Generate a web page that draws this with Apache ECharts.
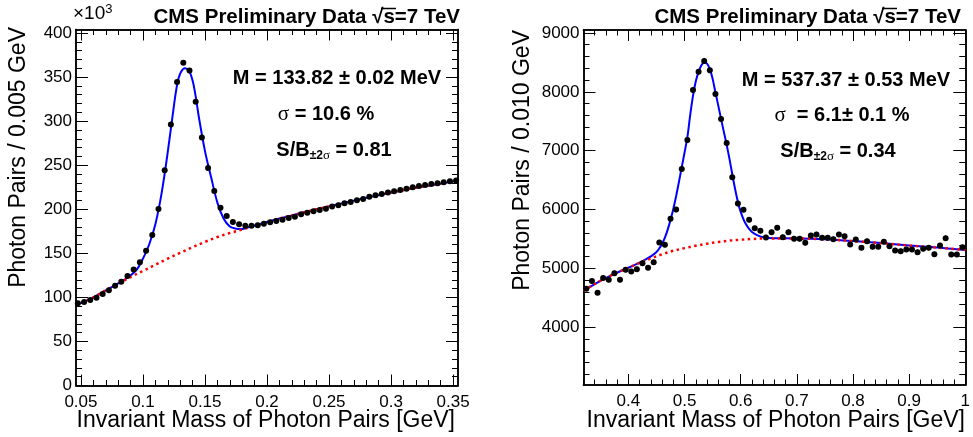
<!DOCTYPE html>
<html>
<head>
<meta charset="utf-8">
<script src="https://cdn.jsdelivr.net/npm/echarts@6/dist/echarts.min.js"></script>
<style>html,body{margin:0;padding:0;background:#fff;}#c{width:973px;height:437px;}</style>
</head>
<body>
<div id="c"></div>
<script>
// ---------- Left panel (pi0) : counts in units of 10^3 ----------
const leftMass = [
0.0475,0.0525,0.0575,0.0625,0.0675,0.0725,0.0775,0.0825,0.0875,0.0925,
0.0975,0.1025,0.1075,0.1125,0.1175,0.1225,0.1275,0.1325,0.1375,0.1425,
0.1475,0.1525,0.1575,0.1625,0.1675,0.1725,0.1775,0.1825,0.1875,0.1925,
0.1975,0.2025,0.2075,0.2125,0.2175,0.2225,0.2275,0.2325,0.2375,0.2425,
0.2475,0.2525,0.2575,0.2625,0.2675,0.2725,0.2775,0.2825,0.2875,0.2925,
0.2975,0.3025,0.3075,0.3125,0.3175,0.3225,0.3275,0.3325,0.3375,0.3425,
0.3475,0.3525];
const leftCounts = [
93.2,94.7,96.9,99.5,103.8,108.0,113.2,117.7,124.2,131.6,
139.9,152.8,170.8,200.3,244.3,296.1,344.3,366.3,357.5,321.9,
281.4,246.7,220.6,201.8,192.4,185.6,183.0,181.4,181.4,181.8,
183.5,185.2,186.7,188.2,190.1,191.6,194.3,196.1,197.7,199.2,
200.7,203.0,204.5,206.8,208.3,210.2,211.7,214.3,215.9,217.4,
218.9,220.5,221.9,223.4,225.0,226.5,227.6,228.8,229.5,230.7,
231.8,232.5];
const leftFitX = [0.046,0.05,0.06,0.07,0.08,0.085,0.09,0.095,0.1,0.105,0.11,0.115,0.12,0.125,0.1275,0.13,0.1338,0.137,0.14,0.1425,0.145,0.15,0.155,0.16,0.165,0.17,0.175,0.18,0.185,0.19,0.2,0.21,0.22,0.24,0.26,0.28,0.30,0.32,0.34,0.354];
const leftFitY = [91.5,93.5,100,108,115.8,120,125,131.5,144,160,183,218,265,318,341,354,360,357.5,346,328,305,266,236,207.5,189.5,180.5,178,177.5,179.5,181.5,185.5,189.5,193,200,206.5,213,219,224.5,229,232.5];
const leftBkgX = [0.046,0.05,0.06,0.07,0.08,0.09,0.10,0.11,0.12,0.13,0.14,0.15,0.16,0.17,0.18,0.19,0.20,0.21,0.22,0.24,0.26,0.28,0.30,0.32,0.34,0.354];
const leftBkgY = [91.5,93.5,100,108,115.5,123,130,137,144,150.5,157,163,168.5,173,177,181.5,185.5,189.5,193,200,206.5,213,219,224.5,229,232.5];
const leftXTicks = [0.05,0.1,0.15,0.2,0.25,0.3,0.35];
const leftYTicks = [0,50,100,150,200,250,300,350,400];

// ---------- Right panel (eta) ----------
const rightMass = [
0.325,0.335,0.345,0.355,0.365,0.375,0.385,0.395,0.405,0.415,
0.425,0.435,0.445,0.455,0.465,0.475,0.485,0.495,0.505,0.515,
0.525,0.535,0.545,0.555,0.565,0.575,0.585,0.595,0.605,0.615,
0.625,0.635,0.645,0.655,0.665,0.675,0.685,0.695,0.705,0.715,
0.725,0.735,0.745,0.755,0.765,0.775,0.785,0.795,0.805,0.815,
0.825,0.835,0.845,0.855,0.865,0.875,0.885,0.895,0.905,0.915,
0.925,0.935,0.945,0.955,0.965,0.975,0.985,0.995];
const rightCounts = [
4656,4785,4588,4836,4808,4920,4808,4978,4949,4988,
5090,5012,5107,5441,5402,5842,6000,6690,7181,8029,
8339,8525,8368,7961,7537,7131,6547,6102,5997,5825,
5681,5639,5527,5615,5693,5531,5615,5503,5503,5436,
5559,5576,5520,5520,5497,5576,5547,5407,5492,5351,
5463,5368,5368,5453,5378,5305,5293,5322,5322,5276,
5334,5351,5242,5390,5514,5237,5237,5361];
const rightErr = [
42,42,41,42,42,42,42,43,43,43,
43,43,43,44,44,45,45,47,48,50,
50,51,50,50,49,48,47,46,46,45,
45,45,45,45,45,45,45,45,45,44,
45,45,45,45,45,45,45,44,45,44,
44,44,44,44,44,44,44,44,44,44,
44,44,44,44,45,44,44,44];
const rightFitX = [0.32,0.34,0.36,0.38,0.40,0.42,0.43,0.44,0.45,0.455,0.46,0.465,0.47,0.475,0.48,0.485,0.49,0.495,0.50,0.505,0.51,0.515,0.52,0.525,0.53,0.535,0.54,0.545,0.55,0.555,0.56,0.565,0.57,0.575,0.58,0.585,0.59,0.595,0.60,0.605,0.61,0.615,0.62,0.63,0.64,0.65,0.66,0.70,0.75,0.80,0.85,0.90,0.95,1.00];
const rightFitY = [4620,4735,4840,4930,5012,5100,5150,5205,5280,5340,5420,5525,5660,5825,6010,6230,6470,6720,6970,7230,7600,7930,8180,8340,8450,8500,8480,8390,8220,7990,7770,7540,7320,7100,6860,6600,6350,6130,5960,5835,5740,5670,5620,5562,5530,5515,5512,5510,5495,5465,5430,5390,5355,5315];
const rightBkgX = [0.32,0.34,0.36,0.38,0.40,0.42,0.44,0.46,0.48,0.50,0.52,0.54,0.56,0.58,0.60,0.62,0.65,0.70,0.75,0.80,0.85,0.90,0.95,1.00];
const rightBkgY = [4620,4735,4840,4930,5010,5095,5170,5240,5300,5345,5385,5420,5450,5472,5488,5500,5510,5510,5495,5465,5430,5390,5355,5315];
const rightXTicks = [0.4,0.5,0.6,0.7,0.8,0.9,1];
const rightYTicks = [4000,5000,6000,7000,8000,9000];

// ---------- helpers ----------
const FONT = 'Liberation Sans, Arial, Helvetica, sans-serif';
function steps(from, to, step, digits) {
  const out = [];
  const n = Math.round((to - from) / step);
  for (let i = 0; i <= n; i++) out.push(+(from + i * step).toFixed(digits));
  return out;
}
const leftXMinor = steps(0.05, 0.35, 0.01, 3);
const leftYMinor = steps(0, 400, 10, 0);
const rightXMinor = steps(0.32, 1.0, 0.02, 3);
const rightYMinor = steps(3200, 9000, 200, 0);

function axisSet(isX, grid, min, max, major, minor, majLen, minLen) {
  const base = {
    type: 'value', gridIndex: grid, min: min, max: max,
    splitLine: {show: false},
    axisLine: {show: true, onZero: false, lineStyle: {color: '#000', width: 1.5}},
  };
  const mk = (pos, vals, len, labels) => Object.assign({}, base, {
    position: pos,
    axisTick: {show: true, inside: true, length: len, customValues: vals, lineStyle: {color: '#000', width: 1}},
    axisLabel: labels ? {show: true, customValues: major, color: '#000', fontSize: 17, fontFamily: FONT,
                          margin: isX ? 8 : 4, formatter: v => String(v)} : {show: false}
  });
  const p1 = isX ? 'bottom' : 'left', p2 = isX ? 'top' : 'right';
  return [mk(p1, major, majLen, true), mk(p1, minor, minLen, false),
          mk(p2, major, majLen, false), mk(p2, minor, minLen, false)];
}

const xAxes = [].concat(
  axisSet(true, 0, 0.046, 0.354, leftXTicks, leftXMinor, 11, 5.5),
  axisSet(true, 1, 0.32, 1.0, rightXTicks, rightXMinor, 11, 5.5));
const yAxes = [].concat(
  axisSet(false, 0, 0, 404, leftYTicks, leftYMinor, 12, 6),
  axisSet(false, 1, 3020, 9050, rightYTicks, rightYMinor, 12, 6));

const zip = (a, b) => a.map((v, i) => [v, b[i]]);

const blueLine = (xi, yi, d) => ({type: 'line', xAxisIndex: xi, yAxisIndex: yi, data: d, symbol: 'none',
  smooth: 0.35, lineStyle: {color: '#0000ff', width: 2}, z: 2, silent: true});
const redLine = (xi, yi, d) => ({type: 'line', xAxisIndex: xi, yAxisIndex: yi, data: d, symbol: 'none',
  smooth: 0.35, lineStyle: {color: '#ff0000', width: 2.5, type: [2.5, 3.5]}, z: 3, silent: true});
const dots = (xi, yi, d) => ({type: 'scatter', xAxisIndex: xi, yAxisIndex: yi, data: d, symbol: 'circle',
  symbolSize: 6, itemStyle: {color: '#000', opacity: 1}, z: 5, silent: true});

const bold20 = {fontSize: 20.5, fontWeight: 'bold', fontFamily: FONT, fill: '#000'};
const richAnn = {
  b: {fontSize: 20, fontWeight: 'bold', fontFamily: FONT, fill: '#000', lineHeight: 24},
  s: {fontSize: 21, fontFamily: 'Liberation Serif, DejaVu Serif, serif', fill: '#000', lineHeight: 24},
  sub: {fontSize: 12, fontWeight: 'bold', fontFamily: FONT, fill: '#000', lineHeight: 12, verticalAlign: 'bottom'},
  subs: {fontSize: 13, fontFamily: 'Liberation Serif, DejaVu Serif, serif', fill: '#000', lineHeight: 12, verticalAlign: 'bottom'}
};
function txt(x, y, text, opts) {
  return Object.assign({type: 'text', x: x, y: y, silent: true,
    style: Object.assign({text: text, align: 'center', verticalAlign: 'middle'}, bold20, opts || {})});
}
function bar(x1, x2, y) {
  return {type: 'line', silent: true, shape: {x1: x1, y1: y, x2: x2, y2: y}, style: {stroke: '#000', lineWidth: 1.5}};
}

const graphics = [
  // titles
  txt(460, 17, 'CMS Preliminary Data \u221As=7 TeV', {align: 'right'}),
  txt(961, 17, 'CMS Preliminary Data \u221As=7 TeV', {align: 'right'}),
  bar(381, 396, 8.5),
  bar(882, 897, 8.5),
  // x10^3
  {type: 'text', x: 73, y: 14, silent: true, style: {text: '{a|\u00D710}{p|3}', align: 'left', verticalAlign: 'middle',
     rich: {a: {fontSize: 19, fontFamily: FONT, fill: '#000', lineHeight: 22},
            p: {fontSize: 13, fontFamily: FONT, fill: '#000', lineHeight: 13, verticalAlign: 'top'}}}},
  // axis titles
  txt(455, 421, 'Invariant Mass of Photon Pairs [GeV]', {align: 'right', fontWeight: 'normal', fontSize: 23}),
  txt(965, 421, 'Invariant Mass of Photon Pairs [GeV]', {align: 'right', fontWeight: 'normal', fontSize: 23}),
  Object.assign(txt(19, 27, 'Photon Pairs / 0.005 GeV', {align: 'right', fontWeight: 'normal', fontSize: 23}), {rotation: Math.PI / 2}),
  Object.assign(txt(523, 30, 'Photon Pairs / 0.010 GeV', {align: 'right', fontWeight: 'normal', fontSize: 23}), {rotation: Math.PI / 2}),
  // annotations left
  txt(337, 78, 'M = 133.82 \u00B1 0.02 MeV', {fontSize: 20}),
  txt(326, 114, '{s|\u03C3}{b| = 10.6 %}', {rich: richAnn}),
  txt(334, 150, '{b|S/B}{sub|\u00B12}{subs|\u03C3}{b| = 0.81}', {rich: richAnn}),
  // annotations right
  txt(846, 80, 'M = 537.37 \u00B1 0.53 MeV', {fontSize: 20}),
  txt(842, 115, '{s|\u03C3}{b|  = 6.1\u00B1 0.1 %}', {rich: richAnn}),
  txt(838, 151, '{b|S/B}{sub|\u00B12}{subs|\u03C3}{b| = 0.34}', {rich: richAnn})
];

const chart = echarts.init(document.getElementById('c'), null, {renderer: 'canvas'});
chart.setOption({
  animation: false,
  backgroundColor: '#fff',
  grid: [
    {left: 76, top: 29.5, width: 382, height: 356, containLabel: false},
    {left: 583.5, top: 30, width: 383.5, height: 355, containLabel: false}
  ],
  xAxis: xAxes,
  yAxis: yAxes,
  series: [
    blueLine(0, 0, zip(leftFitX, leftFitY)),
    redLine(0, 0, zip(leftBkgX, leftBkgY)),
    dots(0, 0, zip(leftMass, leftCounts)),
    blueLine(4, 4, zip(rightFitX, rightFitY)),
    redLine(4, 4, zip(rightBkgX, rightBkgY)),
    {type: 'custom', xAxisIndex: 4, yAxisIndex: 4, z: 4, silent: true,
     data: rightMass.map((x, i) => [x, rightCounts[i] - rightErr[i], rightCounts[i] + rightErr[i]]),
     renderItem: function (params, api) {
       const a = api.coord([api.value(0), api.value(1)]);
       const b = api.coord([api.value(0), api.value(2)]);
       return {type: 'line', shape: {x1: a[0], y1: a[1], x2: b[0], y2: b[1]}, style: {stroke: '#000', lineWidth: 1}};
     }},
    dots(4, 4, zip(rightMass, rightCounts))
  ],
  graphic: graphics
});
</script>
</body>
</html>
